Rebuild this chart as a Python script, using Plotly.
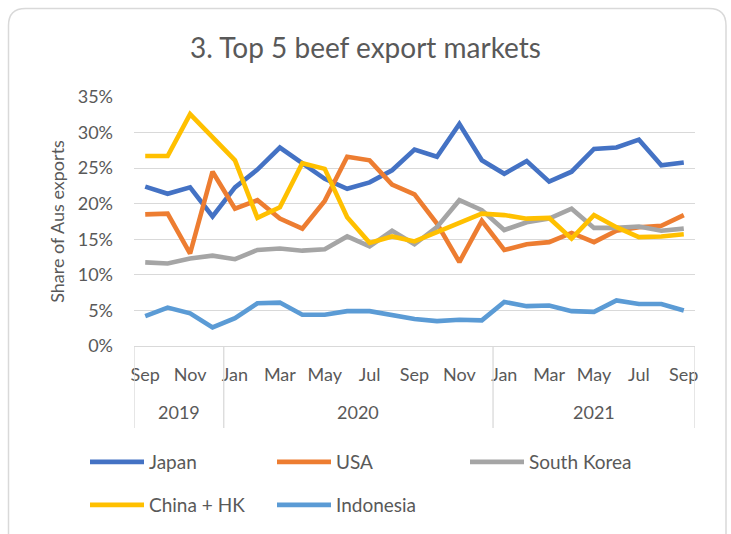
import plotly.graph_objects as go

# ---------------- data ----------------
months = ["Sep", "Oct", "Nov", "Dec",
          "Jan", "Feb", "Mar", "Apr", "May", "Jun", "Jul", "Aug", "Sep", "Oct", "Nov", "Dec",
          "Jan", "Feb", "Mar", "Apr", "May", "Jun", "Jul", "Aug", "Sep"]
years = ["2019"] * 4 + ["2020"] * 12 + ["2021"] * 9

japan = [22.4, 21.4, 22.3, 18.2, 22.3, 24.8, 27.9, 25.6, 23.5, 22.1, 23.0, 24.7, 27.6,
         26.6, 31.2, 26.1, 24.2, 26.0, 23.1, 24.5, 27.7, 27.9, 29.0, 25.4, 25.8]
usa = [18.5, 18.6, 13.0, 24.5, 19.3, 20.5, 17.9, 16.5, 20.4, 26.6, 26.1, 22.7, 21.3,
       17.2, 11.8, 17.6, 13.5, 14.3, 14.6, 15.9, 14.6, 16.2, 16.7, 16.9, 18.4]
south_korea = [11.75, 11.6, 12.3, 12.7, 12.2, 13.5, 13.7, 13.4, 13.6, 15.4, 14.0, 16.2, 14.3,
               16.7, 20.5, 19.1, 16.3, 17.4, 17.9, 19.3, 16.6, 16.6, 16.8, 16.2, 16.5]
china_hk = [26.7, 26.7, 32.6, 29.4, 26.1, 18.0, 19.5, 25.7, 24.9, 18.1, 14.5, 15.4, 14.7,
            16.0, 17.3, 18.6, 18.4, 17.9, 18.0, 15.1, 18.4, 16.7, 15.3, 15.4, 15.7]
indonesia = [4.2, 5.4, 4.6, 2.6, 3.9, 6.0, 6.1, 4.4, 4.4, 4.9, 4.9, 4.3, 3.8,
             3.5, 3.7, 3.6, 6.2, 5.6, 5.7, 4.9, 4.8, 6.4, 5.9, 5.9, 5.0]

series_names = ["Japan", "USA", "South Korea", "China + HK", "Indonesia"]
series_values = [japan, usa, south_korea, china_hk, indonesia]
series_colors = ["#4472C4", "#ED7D31", "#A5A5A5", "#FFC000", "#5B9BD5"]
series_legend = ["legend", "legend", "legend3", "legend2", "legend2"]

y_ticks = [0, 5, 10, 15, 20, 25, 30, 35]

# ---------------- layout geometry ----------------
FW, FH = 731, 534
L, R, T, B = 134, 36, 97, 188
W, H = FW - L - R, FH - T - B
FONT = "Lato, 'Open Sans', sans-serif"
GREY = "#595959"
GRID = "#D9D9D9"


def px_x(p):
    return (p - L) / W


def px_y(p):
    return 1 - (p - T) / H


x_idx = list(range(len(months)))

fig = go.Figure()
for name, vals, col, lg in zip(series_names, series_values, series_colors, series_legend):
    fig.add_trace(go.Scatter(
        x=x_idx, y=vals, mode="lines", name=name,
        line=dict(color=col, width=4.6), legend=lg,
    ))

# year group boundaries and centres
bounds = [-0.5]
for i in range(1, len(years)):
    if years[i] != years[i - 1]:
        bounds.append(i - 0.5)
bounds.append(len(years) - 0.5)

shapes = []
for b in bounds:
    shapes.append(dict(type="line", xref="x", yref="paper", x0=b, x1=b,
                       y0=0, y1=px_y(428), line=dict(color=GRID, width=1.3)))

annotations = []
for a, b in zip(bounds[:-1], bounds[1:]):
    yr = years[int(a + 0.5)]
    annotations.append(dict(x=(a + b) / 2, y=px_y(412), xref="x", yref="paper",
                            text=yr, showarrow=False, yanchor="middle",
                            font=dict(family=FONT, size=18, color=GREY)))

# rounded chart border
lft, rgt, top, bot = px_x(8.5), px_x(726), px_y(8.5), px_y(570)
rx, ry = 17 / W, 17 / H
path = (f"M {lft},{bot} L {lft},{top - ry} Q {lft},{top} {lft + rx},{top} "
        f"L {rgt - rx},{top} Q {rgt},{top} {rgt},{top - ry} L {rgt},{bot}")
shapes.append(dict(type="path", xref="paper", yref="paper", path=path,
                   line=dict(color=GRID, width=1.5)))

legend_common = dict(orientation="h", xref="container", yref="container",
                     xanchor="left", yanchor="middle", bgcolor="rgba(0,0,0,0)",
                     font=dict(family=FONT, size=19, color=GREY),
                     itemwidth=54, entrywidth=118, entrywidthmode="pixels",
                     traceorder="normal")

fig.update_layout(
    width=FW, height=FH,
    margin=dict(l=L, r=R, t=T, b=B),
    paper_bgcolor="white", plot_bgcolor="white",
    font=dict(family=FONT, color=GREY),
    title=dict(text="3. Top 5 beef export markets", x=0.5, xanchor="center",
               y=1 - 48 / FH, yanchor="middle", yref="container",
               font=dict(family=FONT, size=28, color=GREY)),
    xaxis=dict(range=[-0.5, len(months) - 0.5], tickmode="array",
               tickvals=x_idx[::2], ticktext=months[::2],
               showgrid=False, zeroline=False, showline=True, linecolor=GRID,
               linewidth=1.3, ticks="", ticklabelstandoff=12,
               tickfont=dict(family=FONT, size=18, color=GREY)),
    yaxis=dict(range=[0, 35], tickmode="array", tickvals=y_ticks,
               ticktext=[f"{v}%" for v in y_ticks],
               showgrid=True, gridcolor=GRID, gridwidth=1.3, zeroline=False,
               showline=False, ticks="", ticklabelstandoff=20,
               tickfont=dict(family=FONT, size=18, color=GREY),
               title=dict(text="Share of Aus exports", standoff=8,
                          font=dict(family=FONT, size=18, color=GREY))),
    legend=dict(x=85 / FW, y=1 - 462 / FH, **legend_common),
    legend3=dict(x=465 / FW, y=1 - 462 / FH, **legend_common),
    legend2=dict(x=85 / FW, y=1 - 505 / FH, **legend_common),
    shapes=shapes,
    annotations=annotations,
)

fig.write_html("out.html")
